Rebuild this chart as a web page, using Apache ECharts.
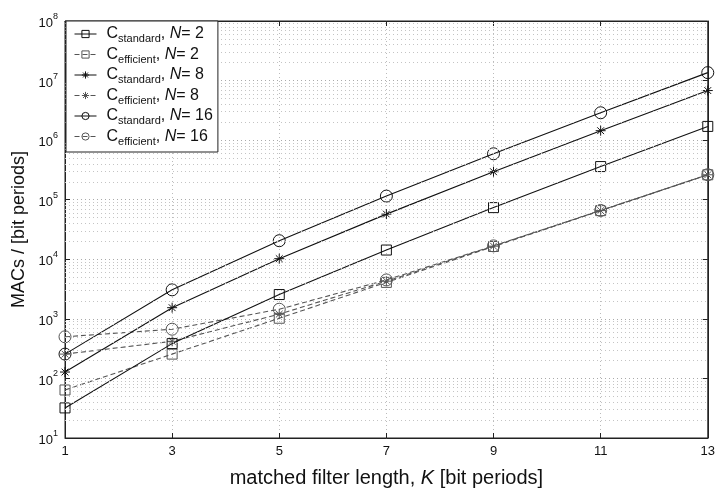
<!DOCTYPE html>
<html>
<head>
<meta charset="utf-8">
<script src="https://cdn.jsdelivr.net/npm/echarts@6/dist/echarts.min.js"></script>
<style>
  html, body { margin: 0; padding: 0; background: #fff; }
  #main { width: 718px; height: 493px; }
</style>
</head>
<body>
<div id="main"></div>
<script>
// matched filter length K
var kValues = [1, 3, 5, 7, 9, 11, 13];

// MACs
var stdN2  = [32, 384, 2560, 14300, 73700, 360000, 1700000];
var effN2  = [64, 256, 1024, 4096, 16384, 65536, 262144];
var stdN8  = [128, 1540, 10240, 57300, 295000, 1440000, 6800000];
var effN8  = [256, 420, 1200, 4290, 16600, 65700, 262300];
var stdN16 = [256, 3070, 20500, 115000, 590000, 2880000, 13600000];
var effN16 = [500, 670, 1450, 4500, 16800, 66000, 262600];

function pairs(vals) {
    var out = [];
    for (var i = 0; i < kValues.length; i++) {
        out.push([kValues[i], vals[i]]);
    }
    return out;
}

// dotted grid lines at 2..9 of every decade
function minorGrid() {
    var lines = [];
    for (var d = 1; d < 8; d++) {
        for (var j = 2; j <= 9; j++) {
            lines.push({ yAxis: j * Math.pow(10, d) });
        }
    }
    return lines;
}

var star = 'path://M0,5L10,5M5,0L5,10M1.6,1.6L8.4,8.4M8.4,1.6L1.6,8.4';

var legendText = {
    std2:  '{w|}{c|C}{s|standard}{c|, }{i|N}{c|= 2}',
    eff2:  '{w|}{c|C}{s|efficient}{c|, }{i|N}{c|= 2}',
    std8:  '{w|}{c|C}{s|standard}{c|, }{i|N}{c|= 8}',
    eff8:  '{w|}{c|C}{s|efficient}{c|, }{i|N}{c|= 8}',
    std16: '{w|}{c|C}{s|standard}{c|, }{i|N}{c|= 16}',
    eff16: '{w|}{c|C}{s|efficient}{c|, }{i|N}{c|= 16}'
};

function mkSeries(name, vals, symbol, size, dashed) {
    var col = dashed ? '#555' : '#111';
    return {
        name: name,
        type: 'line',
        data: pairs(vals),
        symbol: symbol,
        symbolSize: size,
        showAllSymbol: true,
        lineStyle: { color: col, width: 1.1, type: dashed ? [5, 3] : 'solid' },
        itemStyle: { color: 'rgba(255,255,255,0)', borderColor: col, borderWidth: 1 },
        emphasis: { disabled: true },
        z: dashed ? 3 : 4
    };
}

var series = [
    mkSeries('std2', stdN2, 'rect', 10, false),
    mkSeries('eff2', effN2, 'rect', 10, true),
    mkSeries('std8', stdN8, star, 10, false),
    mkSeries('eff8', effN8, star, 10, true),
    mkSeries('std16', stdN16, 'circle', 12, false),
    mkSeries('eff16', effN16, 'circle', 12, true)
];

series[0].markLine = {
    silent: true,
    symbol: 'none',
    label: { show: false },
    lineStyle: { color: '#c4c4c4', type: [1, 3], width: 1 },
    data: minorGrid(),
    animation: false
};

var tickStyle = { inside: true, length: 5, lineStyle: { color: '#222' } };
var labelFont = 'Liberation Sans';

var myChart = echarts.init(document.getElementById('main'));
var option = {
    animation: false,
    backgroundColor: '#fff',
    grid: { left: 65, right: 9, top: 21, bottom: 44, show: true, borderColor: '#222', borderWidth: 1 },
    legend: {
        orient: 'vertical',
        left: 66,
        top: 21,
        itemWidth: 22,
        itemHeight: 9,
        itemGap: 2,
        padding: [5, 5, 5, 8],
        borderColor: '#222',
        borderWidth: 1,
        backgroundColor: '#fff',
        selectedMode: false,
        z: 10,
        lineStyle: { width: 1 },
        itemStyle: { borderWidth: 1 },
        data: ['std2', 'eff2', 'std8', 'eff8', 'std16', 'eff16'],
        formatter: function (name) { return legendText[name]; },
        textStyle: {
            rich: {
                w: { width: 5 },
                c: { fontFamily: labelFont, fontSize: 16, color: '#111', lineHeight: 20, verticalAlign: 'middle' },
                i: { fontFamily: labelFont, fontSize: 16, fontStyle: 'italic', color: '#111', lineHeight: 20, verticalAlign: 'middle' },
                s: { fontFamily: labelFont, fontSize: 11, color: '#111', padding: [10, 0, 0, 0], verticalAlign: 'middle' }
            }
        }
    },
    xAxis: [{
        type: 'value',
        min: 1,
        max: 13,
        interval: 2,
        name: '{t|matched filter length, }{k|K}{t| [bit periods]}',
        nameLocation: 'middle',
        nameGap: 30,
        nameTextStyle: {
            rich: {
                t: { fontFamily: labelFont, fontSize: 20, color: '#111' },
                k: { fontFamily: labelFont, fontSize: 20, fontStyle: 'italic', color: '#111' }
            }
        },
        axisLine: { lineStyle: { color: '#222' } },
        axisTick: tickStyle,
        axisLabel: { fontFamily: labelFont, fontSize: 13, color: '#111', margin: 7 },
        splitLine: { show: true, lineStyle: { color: '#bbb', type: [1, 3] } }
    }, {
        type: 'value',
        position: 'top',
        min: 1,
        max: 13,
        interval: 2,
        axisLine: { lineStyle: { color: '#222' } },
        axisTick: tickStyle,
        axisLabel: { show: false },
        splitLine: { show: false }
    }],
    yAxis: [{
        type: 'log',
        logBase: 10,
        min: 10,
        max: 100000000,
        name: 'MACs / [bit periods]',
        nameLocation: 'middle',
        nameGap: 31,
        nameTextStyle: { fontFamily: labelFont, fontSize: 18, color: '#111' },
        axisLine: { lineStyle: { color: '#222' } },
        axisTick: tickStyle,
        axisLabel: {
            margin: 7,
            formatter: function (v) {
                return '{b|10}{e|' + Math.round(Math.log(v) / Math.LN10) + '}';
            },
            rich: {
                b: { fontFamily: labelFont, fontSize: 13, color: '#111', verticalAlign: 'bottom' },
                e: { fontFamily: labelFont, fontSize: 9, color: '#111', padding: [0, 0, 9, 0], verticalAlign: 'bottom' }
            }
        },
        splitLine: { show: true, lineStyle: { color: '#aaa', type: [1, 3] } }
    }, {
        type: 'log',
        logBase: 10,
        position: 'right',
        min: 10,
        max: 100000000,
        axisLine: { lineStyle: { color: '#222' } },
        axisTick: tickStyle,
        axisLabel: { show: false },
        splitLine: { show: false }
    }],
    series: series
};

myChart.setOption(option);
</script>
</body>
</html>
